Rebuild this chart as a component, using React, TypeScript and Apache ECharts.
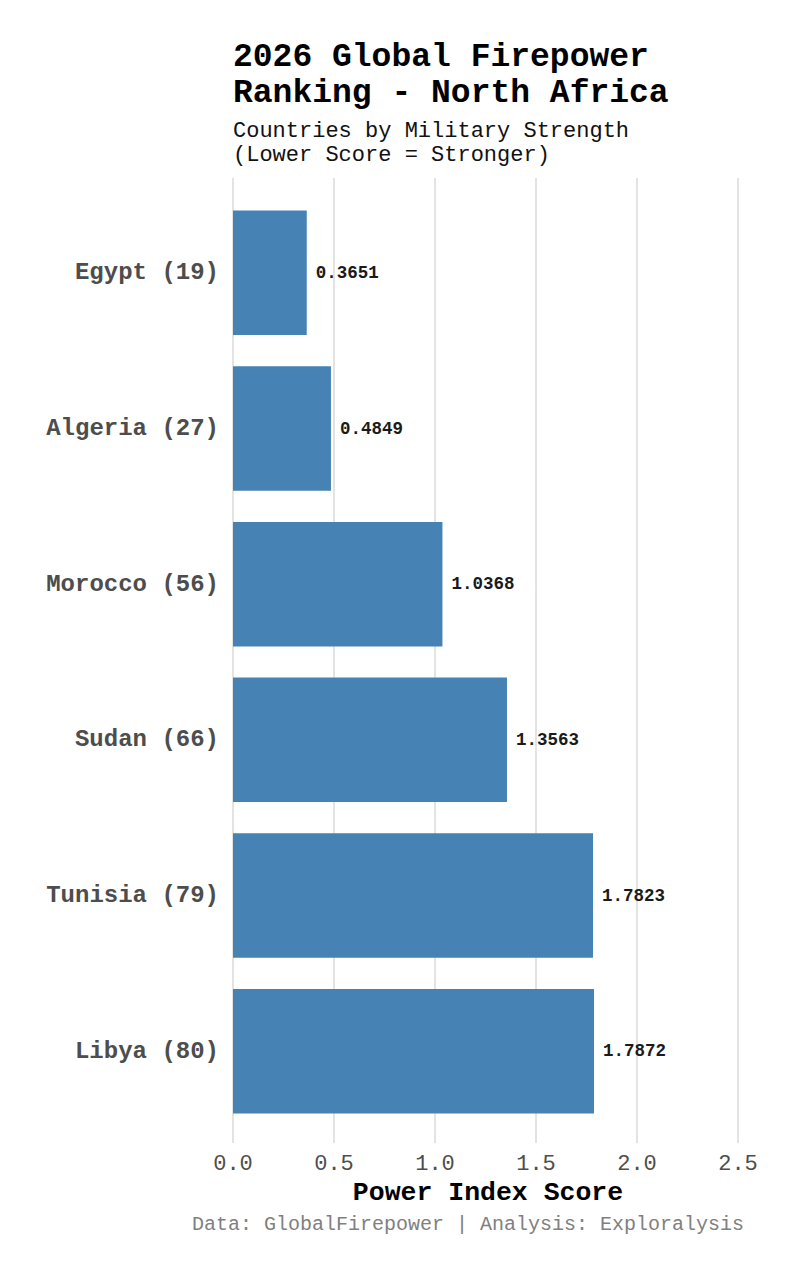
import { useEffect, useRef } from 'react'
import * as echarts from 'echarts'

const countries = ['Egypt (19)', 'Algeria (27)', 'Morocco (56)', 'Sudan (66)', 'Tunisia (79)', 'Libya (80)']
const scores = [0.3651, 0.4849, 1.0368, 1.3563, 1.7823, 1.7872]
const xTicks = [0, 0.5, 1, 1.5, 2, 2.5]

const FONT = '"Liberation Mono", "DejaVu Sans Mono", monospace'

export default function App() {
  const chartRef = useRef<HTMLDivElement>(null)

  useEffect(() => {
    if (!chartRef.current) return
    document.body.style.margin = '0'

    const chart = echarts.init(chartRef.current, null, { renderer: 'svg' })

    const xMin = xTicks[0]
    const xMax = xTicks[xTicks.length - 1]
    const step = xTicks[1] - xTicks[0]

    const option: echarts.EChartsOption = {
      animation: false,
      backgroundColor: '#ffffff',
      textStyle: { fontFamily: FONT },
      title: {
        left: 233,
        top: 39,
        itemGap: 8,
        padding: 0,
        text: '2026 Global Firepower\nRanking - North Africa',
        textStyle: { fontFamily: FONT, fontSize: 33, fontWeight: 'bold', color: '#000', lineHeight: 36 },
        subtext: 'Countries by Military Strength\n(Lower Score = Stronger)',
        subtextStyle: { fontFamily: FONT, fontSize: 22, color: '#111', lineHeight: 24 }
      },
      grid: [
        // bars
        { left: 233, right: 62, top: 195, bottom: 151 },
        // gridlines + x axis labels (ggplot-style expanded panel)
        { left: 233, right: 62, top: 178, bottom: 137 }
      ],
      xAxis: [
        {
          gridIndex: 0,
          type: 'value',
          min: xMin,
          max: xMax,
          interval: step,
          show: false
        },
        {
          gridIndex: 1,
          type: 'value',
          min: xMin,
          max: xMax,
          interval: step,
          axisLine: { show: false },
          axisTick: { show: false },
          splitLine: { show: true, lineStyle: { color: '#e3e3e3', width: 2 } },
          axisLabel: {
            margin: 10,
            fontFamily: FONT,
            fontSize: 22,
            color: '#4d4d4d',
            formatter: (v: number) => v.toFixed(1)
          },
          name: 'Power Index Score',
          nameLocation: 'middle',
          nameGap: 34,
          nameTextStyle: { fontFamily: FONT, fontSize: 26.5, fontWeight: 'bold', color: '#000', padding: [0, 0, 0, 5] }
        }
      ],
      yAxis: [
        {
          gridIndex: 0,
          type: 'category',
          data: countries,
          inverse: true,
          axisLine: { show: false },
          axisTick: { show: false },
          splitLine: { show: false },
          axisLabel: {
            margin: 14,
            fontFamily: FONT,
            fontSize: 24,
            fontWeight: 'bold',
            color: '#4d4d4d'
          }
        },
        {
          gridIndex: 1,
          type: 'value',
          show: false
        }
      ],
      series: [
        {
          type: 'bar',
          xAxisIndex: 0,
          yAxisIndex: 0,
          data: scores,
          barWidth: '80%',
          itemStyle: { color: '#4682b4' },
          label: {
            show: true,
            position: 'right',
            distance: 9,
            fontFamily: FONT,
            fontSize: 17.5,
            fontWeight: 'bold',
            color: '#1a1a1a',
            formatter: (p: any) => Number(p.value).toFixed(4)
          }
        }
      ],
      graphic: [
        {
          type: 'text',
          right: 56,
          top: 1214,
          style: {
            text: 'Data: GlobalFirepower | Analysis: Exploralysis',
            font: `20px ${FONT}`,
            fill: '#808080'
          }
        }
      ]
    }

    chart.setOption(option)

    return () => {
      chart.dispose()
    }
  }, [])

  return <div ref={chartRef} style={{ width: 800, height: 1280 }} />
}
